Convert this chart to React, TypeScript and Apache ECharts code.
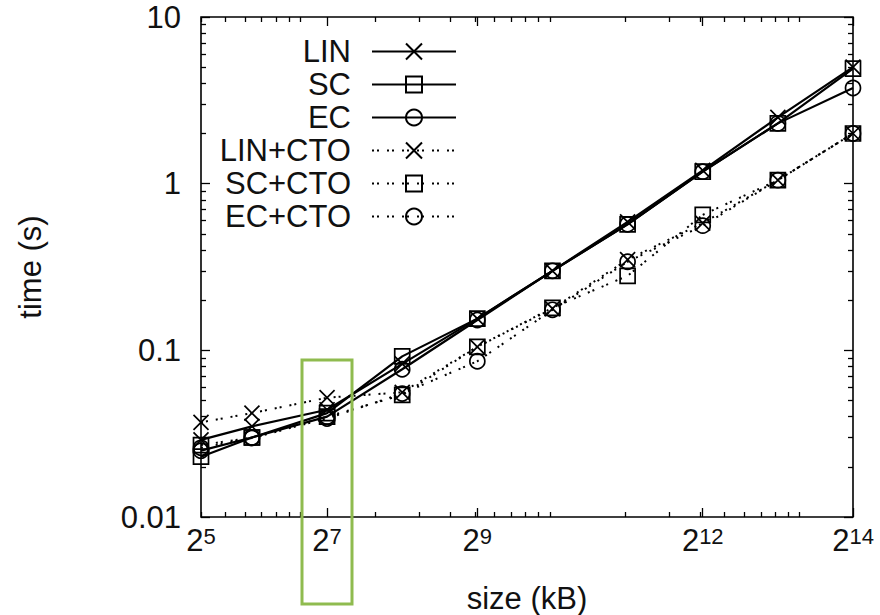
import React, { useEffect, useRef } from 'react';
import * as echarts from 'echarts';

// x: transfer size in kB (log scale, base 2); first point sits on the left border
const sizesKB = [40, 64, 128, 256, 512, 1024, 2048, 4096, 8192, 16384];
const seriesNames = ['LIN', 'SC', 'EC', 'LIN+CTO', 'SC+CTO', 'EC+CTO'];
const linTimes = [0.029, 0.035, 0.044, 0.083, 0.155, 0.30, 0.59, 1.2, 2.5, 5.0];
const scTimes = [0.023, 0.030, 0.042, 0.092, 0.155, 0.30, 0.57, 1.18, 2.3, 4.9];
const ecTimes = [0.025, 0.030, 0.040, 0.077, 0.152, 0.30, 0.57, 1.18, 2.3, 3.75];
const linCtoTimes = [0.037, 0.042, 0.052, 0.056, 0.105, 0.178, 0.35, 0.58, 1.05, 2.0];
const scCtoTimes = [0.027, 0.030, 0.040, 0.054, 0.105, 0.18, 0.28, 0.65, 1.05, 2.0];
const ecCtoTimes = [0.026, 0.0298, 0.039, 0.055, 0.086, 0.175, 0.34, 0.56, 1.05, 2.0];

const xMinKB = 40;
const xMaxKB = 16384;
const xLabelExps = [7, 9, 12, 14];
const xFirstLabelExp = 5;
const yMin = 0.01;
const yMax = 10;
const yTickLabels = ['0.01', '0.1', '1', '10'];
const xMinorTicksKB = [40, 50, 60, 70, 80, 90, 100, 200, 300, 400, 500, 600, 700, 800, 900, 1000, 2000, 3000, 4000, 5000, 6000, 7000, 8000, 9000, 10000];
const yMinorTicks = [0.02, 0.03, 0.04, 0.05, 0.06, 0.07, 0.08, 0.09, 0.2, 0.3, 0.4, 0.5, 0.6, 0.7, 0.8, 0.9, 2, 3, 4, 5, 6, 7, 8, 9];

const FONT = '"Liberation Sans", Arial, Helvetica, sans-serif';
const X_SYMBOL = 'path://M0,0L10,10M10,0L0,10';
const symbols = [X_SYMBOL, 'rect', 'circle', X_SYMBOL, 'rect', 'circle'];
const allTimes = [linTimes, scTimes, ecTimes, linCtoTimes, scCtoTimes, ecCtoTimes];

export default function App() {
  const ref = useRef<HTMLDivElement>(null);
  useEffect(() => {
    if (!ref.current) return;
    const chart = echarts.init(ref.current, null, { renderer: 'svg' });
    const xMinExp = Math.log2(xMinKB);
    const xMaxExp = Math.log2(xMaxKB);
    const yMinExp = Math.log10(yMin);
    const yMaxExp = Math.log10(yMax);
    const hidden = { show: false };
    const noLine = { show: false, onZero: false };
    const tickAxisX = (position: string, values: number[], length: number, withLabels: boolean) => ({
      type: 'value',
      position,
      min: xMinExp,
      max: xMaxExp,
      axisLine: noLine,
      splitLine: hidden,
      axisTick: { show: true, inside: true, length, customValues: values, lineStyle: { color: '#000', width: 1.3 } },
      axisLabel: withLabels
        ? {
            show: true,
            margin: 8,
            customValues: [xMinExp, ...xLabelExps],
            formatter: (v: number) => `{b|2}{s|${Math.abs(v - xMinExp) < 1e-6 ? xFirstLabelExp : Math.round(v)}}`,
            rich: {
              b: { fontSize: 31, fontFamily: FONT, color: '#111', verticalAlign: 'bottom' },
              s: { fontSize: 22, fontFamily: FONT, color: '#111', verticalAlign: 'top' },
            },
          }
        : hidden,
    });
    const tickAxisY = (position: string, values: number[], length: number) => ({
      type: 'value',
      position,
      min: yMinExp,
      max: yMaxExp,
      axisLine: noLine,
      splitLine: hidden,
      axisLabel: hidden,
      axisTick: { show: true, inside: true, length, customValues: values, lineStyle: { color: '#000', width: 1.3 } },
    });
    const majorX = xLabelExps.slice();
    const minorX = xMinorTicksKB.map((k) => Math.log2(k));
    const majorY = yTickLabels.map((t) => Math.log10(Number(t)));
    const minorY = yMinorTicks.map((t) => Math.log10(t));

    chart.setOption({
      animation: false,
      backgroundColor: '#fff',
      grid: { left: 201, right: 27, top: 17, bottom: 98, show: true, borderColor: '#000', borderWidth: 1.6, backgroundColor: 'transparent' },
      xAxis: [
        { type: 'log', logBase: 2, min: xMinKB, max: xMaxKB, position: 'bottom', axisLine: noLine, axisTick: hidden, axisLabel: hidden, splitLine: hidden },
        tickAxisX('bottom', majorX, 9, true),
        tickAxisX('bottom', minorX, 5, false),
        tickAxisX('top', majorX, 9, false),
        tickAxisX('top', minorX, 5, false),
      ],
      yAxis: [
        {
          type: 'log',
          logBase: 10,
          min: yMin,
          max: yMax,
          position: 'left',
          axisLine: noLine,
          splitLine: hidden,
          axisTick: { show: true, inside: true, length: 9, lineStyle: { color: '#000', width: 1.3 } },
          axisLabel: {
            show: true,
            margin: 20,
            fontSize: 31,
            fontFamily: FONT,
            color: '#111',
            formatter: (v: number) => yTickLabels.find((t) => Math.abs(Number(t) - v) / v < 1e-6) ?? '',
          },
        },
        tickAxisY('left', minorY, 5),
        tickAxisY('right', majorY, 9),
        tickAxisY('right', minorY, 5),
      ],
      legend: {
        orient: 'vertical',
        align: 'right',
        right: 423,
        top: 36,
        padding: 0,
        itemGap: 2,
        itemWidth: 84,
        itemHeight: 20,
        selectedMode: false,
        data: seriesNames,
        textStyle: { fontSize: 31, lineHeight: 30, fontFamily: FONT, color: '#111', padding: [0, 16, 0, 0] },
      },
      series: seriesNames.map((name, si) => ({
        name,
        type: 'line',
        xAxisIndex: 0,
        yAxisIndex: 0,
        data: sizesKB.map((s, i) => [s, allTimes[si][i]]),
        symbol: symbols[si],
        symbolSize: 15,
        showAllSymbol: true,
        clip: false,
        lineStyle: { color: '#000', width: si < 3 ? 2.2 : 2, type: si < 3 ? 'solid' : [2, 3, 2, 8] },
        itemStyle: { color: 'rgba(0,0,0,0)', borderColor: '#000', borderWidth: 1.7 },
        emphasis: { disabled: true },
      })),
      graphic: [
        { type: 'text', x: 30, y: 267, rotation: Math.PI / 2, style: { text: 'time (s)', fontSize: 31, fontFamily: FONT, fill: '#111', align: 'center', verticalAlign: 'middle' } },
        { type: 'text', x: 527, y: 598, style: { text: 'size (kB)', fontSize: 31, fontFamily: FONT, fill: '#111', align: 'center', verticalAlign: 'middle' } },
        { type: 'rect', shape: { x: 302, y: 360, width: 50, height: 244 }, style: { fill: 'none', stroke: '#8fbb4f', lineWidth: 3 }, z: 100 },
      ],
    });
    return () => chart.dispose();
  }, []);
  return <div ref={ref} style={{ width: 880, height: 615, position: 'absolute', left: 0, top: 0 }} />;
}
